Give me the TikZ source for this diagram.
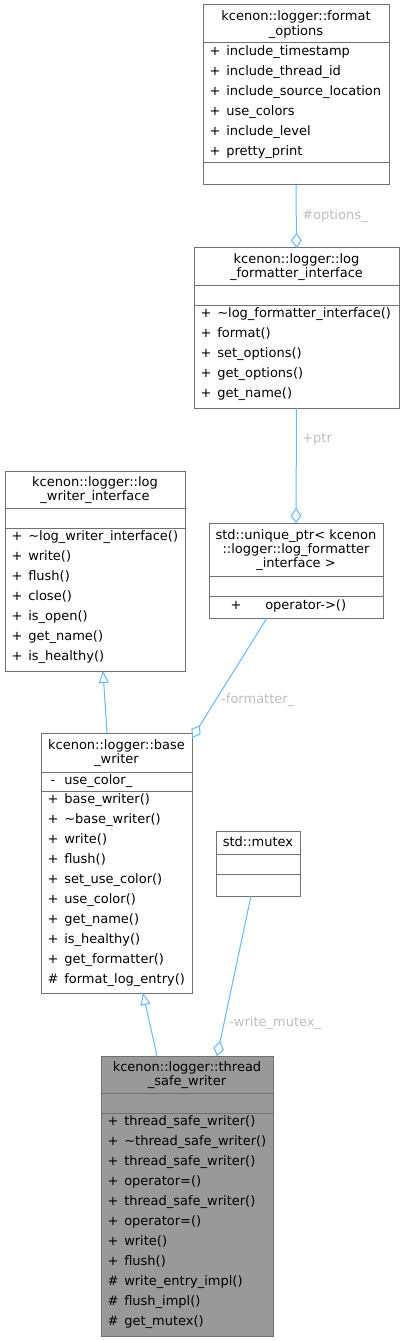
\documentclass[tikz,border=0pt]{standalone}
\usepackage{fontspec}
\setmainfont{DejaVu Sans}
\usetikzlibrary{arrows.meta,calc}
\definecolor{boxgray}{HTML}{707070}
\definecolor{edgeblue}{HTML}{63B8FF}
\definecolor{lblgray}{HTML}{BEBEBE}
\definecolor{mainfill}{HTML}{999999}
\tikzset{
  umlbox/.style={draw=boxgray, line width=0.75pt, inner sep=0pt, outer sep=0pt, anchor=north west},
  sepline/.style={draw=boxgray, line width=0.75pt},
  txt/.style={font=\fontsize{9.75pt}{11.25pt}\selectfont, inner sep=0pt, text=black},
  ttl/.style={txt, anchor=mid},
  vis/.style={txt, anchor=mid},
  mem/.style={txt, anchor=mid west},
  lbl/.style={txt, anchor=mid west, text=lblgray},
  edge/.style={draw=edgeblue, line width=0.75pt},
  agg/.style={edge, {Diamond[open, length=11.25pt, width=8pt]}-},
  inh/.style={edge, {Triangle[open, length=9pt, width=7.5pt]}-},
}
\newcommand\umlbx[6]{%
  \node[umlbox, fill=#6, minimum width={(#4-#2)*0.75pt}, minimum height={(#5-#3)*0.75pt}] (#1) at (#2,#3) {};}
\newcommand\umlmembers[4]{%
  \foreach \s/\t [count=\i] in {#4} {%
    \node[vis] (#1v\i) at ({#2+12}, {#3+20*\i-20}) {\s};
    \node[mem] (#1m\i) at ({#2+23}, {#3+20*\i-20}) {\t};
  }}
\begin{document}
\begin{tikzpicture}[x=0.75pt,y=-0.75pt]
\useasboundingbox (0,0) rectangle (404,1341);
\fill[white] (0,0) rectangle (404,1341);

% format_options
\umlbx{fo}{203}{5}{389}{185}{white}
\draw[sepline] (203,43) -- (389,43);
\draw[sepline] (203,163) -- (389,163);
\node[ttl] (fot1) at (296,17) {kcenon::logger::format};
\node[ttl] (fot2) at (296,32) {\_options};
\umlmembers{fo}{203}{52}{+/include\_timestamp, +/include\_thread\_id, +/include\_source\_location, +/use\_colors, +/include\_level, +/pretty\_print}

% log_formatter_interface
\umlbx{lfi}{194}{248}{399}{408}{white}
\draw[sepline] (194,285) -- (399,285);
\draw[sepline] (194,305) -- (399,305);
\node[ttl] (lfit1) at (296.5,260) {kcenon::logger::log};
\node[ttl] (lfit2) at (296.5,274) {\_formatter\_interface};
\umlmembers{lfi}{194}{314}{+/\textasciitilde log\_formatter\_interface(), +/format(), +/set\_options(), +/get\_options(), +/get\_name()}

% log_writer_interface
\umlbx{lwi}{5}{471}{185}{671}{white}
\draw[sepline] (5,508) -- (185,508);
\draw[sepline] (5,528) -- (185,528);
\node[ttl] (lwit1) at (95,483) {kcenon::logger::log};
\node[ttl] (lwit2) at (95,497) {\_writer\_interface};
\umlmembers{lwi}{5}{537}{+/\textasciitilde log\_writer\_interface(), +/write(), +/flush(), +/close(), +/is\_open(), +/get\_name(), +/is\_healthy()}

% unique_ptr
\umlbx{uptr}{209}{523}{383}{618}{white}
\draw[sepline] (209,576) -- (383,576);
\draw[sepline] (209,596) -- (383,596);
\node[ttl] (uptrt1) at (296,536) {std::unique\_ptr< kcenon};
\node[ttl] (uptrt2) at (296,550) {::logger::log\_formatter};
\node[ttl] (uptrt3) at (296,564) {\_interface >};
\node[vis] (uptrv1) at (236,606) {+};
\node[mem] (uptrm1) at (265,606) {operator->()};

% base_writer
\umlbx{bw}{41}{733}{192}{993}{white}
\draw[sepline] (41,772) -- (192,772);
\draw[sepline] (41,791) -- (192,791);
\node[ttl] (bwt1) at (116.5,746) {kcenon::logger::base};
\node[ttl] (bwt2) at (116.5,760) {\_writer};
\node[vis] (bwa1) at (53,781) {-};
\node[mem] (bwb1) at (64,781) {use\_color\_};
\umlmembers{bw}{41}{800}{+/base\_writer(), +/\textasciitilde base\_writer(), +/write(), +/flush(), +/set\_use\_color(), +/use\_color(), +/get\_name(), +/is\_healthy(), +/get\_formatter(), \#/format\_log\_entry()}

% std::mutex
\umlbx{mtx}{216}{831}{300}{896}{white}
\draw[sepline] (216,854) -- (300,854);
\draw[sepline] (216,874) -- (300,874);
\node[ttl] (mtxt1) at (258,843) {std::mutex};

% thread_safe_writer
\umlbx{tsw}{101}{1056}{273}{1336}{mainfill}
\draw[sepline] (101,1093) -- (273,1093);
\draw[sepline] (101,1113) -- (273,1113);
\node[ttl] (tswt1) at (187,1068) {kcenon::logger::thread};
\node[ttl] (tswt2) at (187,1082) {\_safe\_writer};
\umlmembers{tsw}{101}{1122}{+/thread\_safe\_writer(), +/\textasciitilde thread\_safe\_writer(), +/thread\_safe\_writer(), +/operator=(), +/thread\_safe\_writer(), +/operator=(), +/write(), +/flush(), \#/write\_entry\_impl(), \#/flush\_impl(), \#/get\_mutex()}

% connectors
\draw[agg] (lfi.north) -- (fo.south);
\node[lbl] (lopt) at (302,216) {\#options\_};

\draw[agg] (uptr.north) -- (lfi.south);
\node[lbl] (lptr) at (302,439) {+ptr};

\draw[inh] ($(lwi.south west)+(98,0)$) -- ($(bw.north west)+(66,0)$);

\draw[agg] ($(bw.north east)+(0,5)$) -- ($(uptr.south west)+(58,0)$);
\node[lbl] (lfmt) at (221,700) {-formatter\_};

\draw[inh] ($(bw.south west)+(102,0)$) -- ($(tsw.north west)+(56,0)$);

\draw[agg] ($(tsw.north west)+(116,0)$) -- ($(mtx.south west)+(35,0)$);
\node[lbl] (lmtx) at (229,1023) {-write\_mutex\_};
\end{tikzpicture}
\end{document}
